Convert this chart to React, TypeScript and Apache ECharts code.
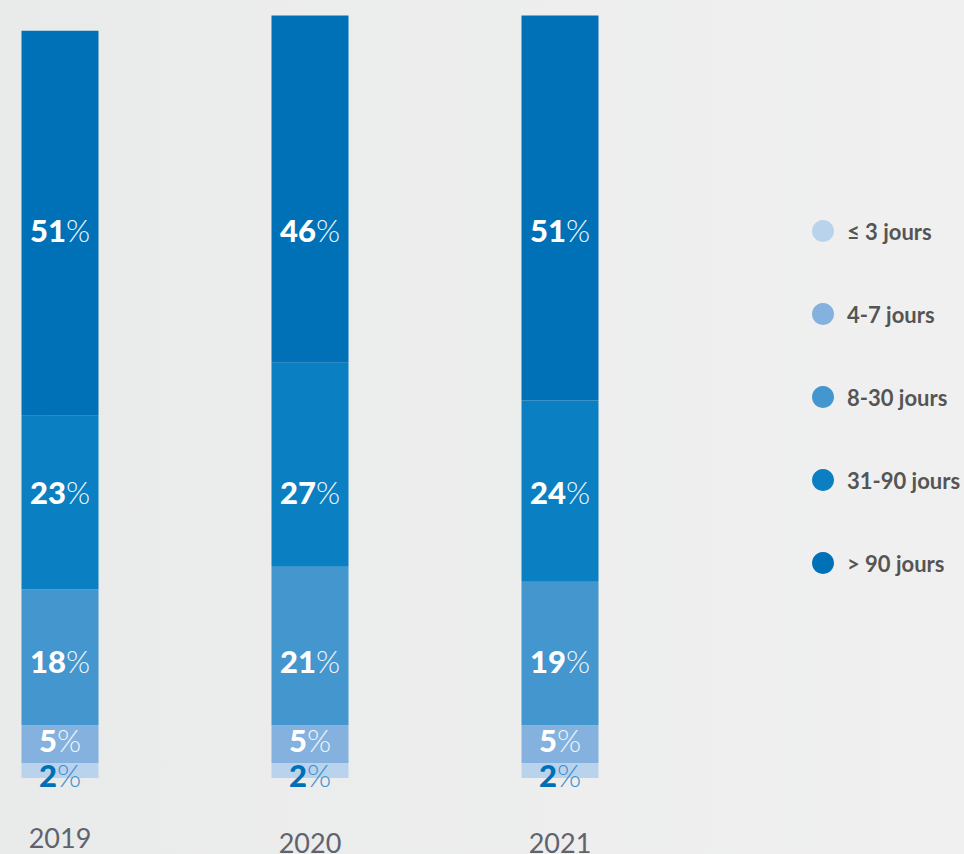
import React, { useEffect, useRef } from "react";
import * as echarts from "echarts";

const years = ["2019", "2020", "2021"];
const seriesNames = ["≤ 3 jours", "4-7 jours", "8-30 jours", "31-90 jours", "> 90 jours"];
const le3 = [2, 2, 2];
const d4to7 = [5, 5, 5];
const d8to30 = [18, 21, 19];
const d31to90 = [23, 27, 24];
const gt90 = [51, 46, 51];
const colors = ["#bad3ed", "#84b1dd", "#4396ce", "#0a7fc1", "#0071b7"];
// vertical position (axis units) of each row of percentage labels
const labelRows = [0.4, 5.0, 15.5, 37.9, 72.6];

export default function App() {
  const ref = useRef<HTMLDivElement>(null);
  useEffect(() => {
    document.body.style.margin = "0";
    const chart = echarts.init(ref.current!, null, { renderer: "svg" });
    const values = [le3, d4to7, d8to30, d31to90, gt90];
    const barSeries = values.map((vals, i) => ({
      name: seriesNames[i],
      type: "bar",
      stack: "total",
      barWidth: 77,
      data: vals,
      itemStyle: { color: colors[i] },
      label: { show: false },
    }));
    const labelSeries = values.map((vals, r) => ({
      name: "label" + r,
      type: "scatter",
      symbolSize: 1,
      itemStyle: { color: "rgba(0,0,0,0)", opacity: 1 },
      z: 10,
      silent: true,
      data: vals.map((v, i) => [i, labelRows[r], v]),
      label: {
        show: true,
        position: "inside",
        textBorderWidth: 0,
        formatter: (p: any) => `{n|${p.value[2]}}{p|%}`,
        rich: {
          n: {
            fontFamily: "Lato",
            fontWeight: 900,
            fontSize: 31,
            textBorderWidth: 0,
            color: r === 0 ? "#0070b6" : "#ffffff",
          },
          p: {
            fontFamily: "Lato",
            fontWeight: 300,
            fontSize: 31,
            textBorderWidth: 0,
            color: r === 0 ? "#3d90cd" : "#eef5fb",
          },
        },
      },
    }));
    chart.setOption({
      animation: false,
      backgroundColor: {
        type: "linear",
        x: 0, y: 0, x2: 1, y2: 0,
        colorStops: [
          { offset: 0, color: "#e9ebea" },
          { offset: 1, color: "#f0f0f0" },
        ],
      },
      grid: {
        left: 60,
        right: 404,
        top: 8,
        bottom: 76,
        containLabel: false,
        outerBoundsMode: "none",
      },
      legend: {
        data: seriesNames,
        orient: "vertical",
        left: 812,
        top: 220,
        padding: 0,
        icon: "circle",
        itemWidth: 22,
        itemHeight: 22,
        itemGap: 61,
        selectedMode: false,
        textStyle: {
          fontFamily: "Lato",
          fontWeight: "bold",
          fontSize: 22,
          color: "#555555",
          padding: [0, 0, 0, 8],
        },
      },
      xAxis: {
        type: "category",
        boundaryGap: false,
        data: [
          { value: years[0], textStyle: { padding: [0, 0, 0, 0] } },
          { value: years[1], textStyle: { padding: [5, 0, 0, 0] } },
          { value: years[2], textStyle: { padding: [5, 0, 0, 0] } },
        ],
        axisLine: { show: false },
        axisTick: { show: false },
        axisLabel: {
          margin: 46,
          fontFamily: "Lato",
          fontSize: 27,
          color: "#60626e",
        },
      },
      yAxis: {
        type: "value",
        min: 0,
        max: 102,
        show: false,
        splitLine: { show: false },
      },
      series: [...barSeries, ...labelSeries],
    });
    return () => chart.dispose();
  }, []);
  return <div ref={ref} style={{ width: 964, height: 854 }} />;
}
